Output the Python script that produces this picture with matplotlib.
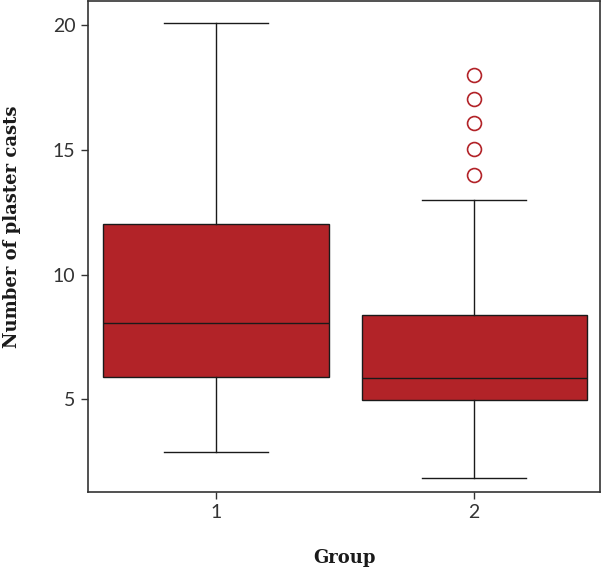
import matplotlib
matplotlib.use("Agg")
import matplotlib.pyplot as plt

groups = ["1", "2"]
whislo = [2.9, 1.85]
q1 = [5.9, 4.97]
med = [8.05, 5.85]
q3 = [12.02, 8.37]
whishi = [20.1, 13.0]
fliers = [[], [14.0, 15.05, 16.08, 17.05, 18.02]]

red = "#B22328"

fig = plt.figure(figsize=(6.04, 5.68), dpi=100)
ax = fig.add_axes([88/604, (568-492)/568, (600-88)/604, (491)/568])

stats = []
for i in range(len(groups)):
    stats.append(dict(label=groups[i], whislo=whislo[i], q1=q1[i], med=med[i],
                      q3=q3[i], whishi=whishi[i], fliers=fliers[i]))

ax.bxp(stats, positions=[1, 2], widths=0.872, patch_artist=True, showcaps=True,
       boxprops=dict(facecolor=red, edgecolor="#1a1a1a", linewidth=1.0),
       medianprops=dict(color="#1a1a1a", linewidth=1.0),
       whiskerprops=dict(color="#1a1a1a", linewidth=1.0),
       capprops=dict(color="#1a1a1a", linewidth=1.0),
       capwidths=0.4,
       flierprops=dict(marker="o", markerfacecolor="none", markeredgecolor=red,
                       markersize=10, markeredgewidth=1.2))

ax.set_xlim(0.504, 2.488)
ax.set_ylim(1.28, 20.98)
ax.set_yticks([5, 10, 15, 20])
ax.set_xticks([1, 2])
ax.set_xticklabels(groups)

for s in ax.spines.values():
    s.set_color("#333333")
    s.set_linewidth(1.2)
ax.tick_params(direction="out", length=5, width=1, color="#333333",
               labelsize=14, labelcolor="#333333", pad=4)
for lab in ax.get_xticklabels() + ax.get_yticklabels():
    lab.set_family("Lato")

ax.set_xlabel("Group", fontsize=13, fontweight="bold", family="DejaVu Serif",
              labelpad=20, color="#1a1a1a")
ax.set_ylabel("Number of plaster casts", fontsize=13, fontweight="bold",
              family="DejaVu Serif", color="#1a1a1a")
ax.yaxis.set_label_coords(-0.131, 0.54)

fig.savefig("out.png", dpi=100)
